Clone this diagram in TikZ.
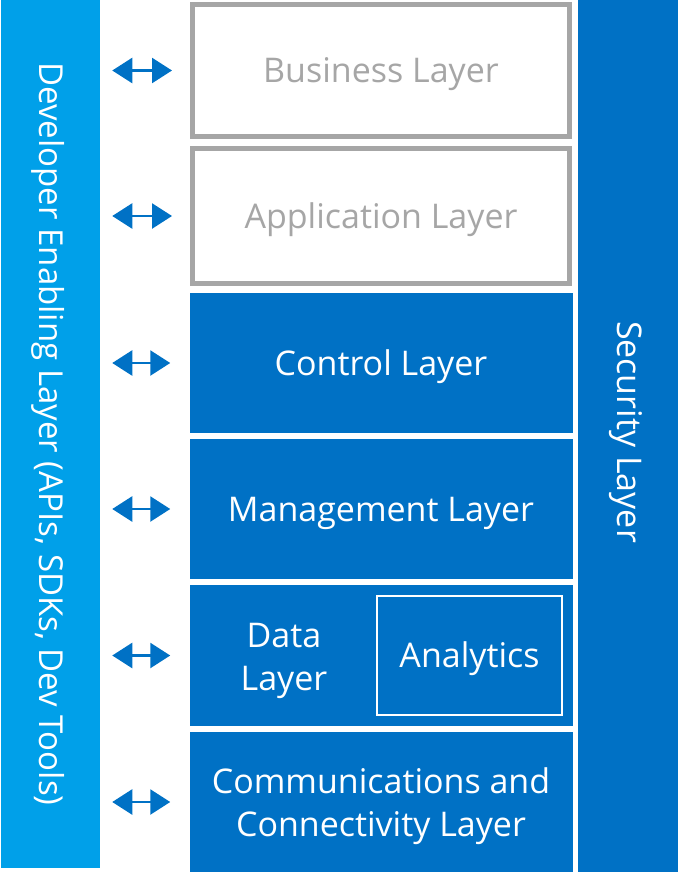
\documentclass[tikz,border=0pt]{standalone}
\usepackage{fontspec}
\setmainfont{Open Sans}
\usetikzlibrary{arrows.meta}
\definecolor{devblue}{RGB}{0,160,233}
\definecolor{layerblue}{RGB}{0,113,197}
\definecolor{layergray}{RGB}{166,166,166}
\begin{document}
\begin{tikzpicture}[x=1pt,y=-1pt,
                    font=\fontsize{34}{43}\selectfont,
                    line width=2.5pt]
    \tikzstyle{caption}=[text height=33pt,align=center]
    \tikzstyle{twoline}=[caption,text height=78pt]
    \tikzstyle{layer}=[rectangle,caption,fill=layerblue,text=white,minimum width=383pt,inner sep=0pt]
    \tikzstyle{openlayer}=[layer,fill=white,draw=layergray,line width=5pt,text=layergray,minimum width=377pt]
    \tikzstyle{sidebar}=[rectangle,minimum width=100pt,inner sep=0pt]
    \tikzstyle{sidetext}=[rotate=-90,text=white,inner sep=0pt]
    \tikzstyle{link}=[draw=layerblue,{Triangle[length=20pt,width=25pt]}-{Triangle[length=20pt,width=25pt]},shorten <=11pt,shorten >=18pt]

    \useasboundingbox (0,0) rectangle (678,873);

    % side bars
    \node[sidebar,fill=devblue,minimum width=99pt,minimum height=868pt] (dev) at (50.5,434) {};
    \node[sidetext,font=\fontsize{33}{43}\selectfont] (devtext) at (48.5,434) {Developer Enabling Layer (APIs, SDKs, Dev Tools)};
    \node[sidebar,fill=layerblue,minimum height=872pt] (sec) at (628,436) {};
    \node[sidetext] (sectext) at (625.5,432) {Security Layer};

    % layer stack
    \node[openlayer,minimum height=132pt] (biz) at (381,70.5) {Business Layer};
    \node[openlayer,minimum height=135pt] (app) at (381,216) {Application Layer};
    \node[layer,minimum height=140pt] (ctrl) at (381,363) {Control Layer};
    \node[layer,minimum height=140pt] (mgmt) at (381,509) {Management Layer};
    \node[layer,minimum height=141pt] (data) at (381,655.5) {};
    \node[twoline,text=white] (datatext) at (284,655.5) {Data\\Layer};
    \node[rectangle,caption,draw=white,line width=2pt,text=white,minimum width=185pt,minimum height=119pt] (ana) at (469.5,655.5) {Analytics};
    \node[layer,twoline,minimum height=140pt] (comm) at (381,802) {Communications and\\Connectivity Layer};

    % links to the developer layer
    \foreach \l in {biz,app,ctrl,mgmt,data,comm}
        \draw[link] (dev.east |- \l.west) -- (\l.west);

\end{tikzpicture}
\end{document}
